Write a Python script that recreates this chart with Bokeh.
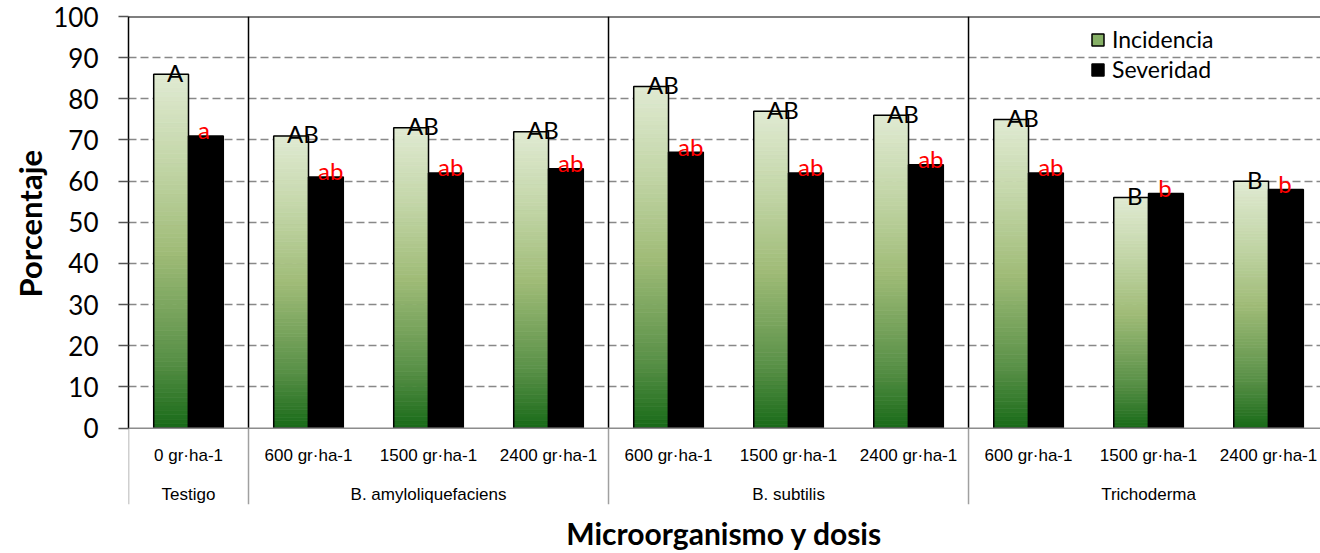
import numpy as np
from bokeh.plotting import figure
from bokeh.models import (Range1d, LinearAxis, FixedTicker, Span, Legend, LegendItem,
                          ColumnDataSource, Grid, Title)
from bokeh.core.properties import value
from bokeh.embed import file_html
from bokeh.resources import INLINE

# ---------------- data ----------------
microorganismo = ["Testigo",
                  "B. amyloliquefaciens", "B. amyloliquefaciens", "B. amyloliquefaciens",
                  "B. subtilis", "B. subtilis", "B. subtilis",
                  "Trichoderma", "Trichoderma", "Trichoderma"]
dosis = ["0 gr·ha-1",
         "600 gr·ha-1", "1500 gr·ha-1", "2400 gr·ha-1",
         "600 gr·ha-1", "1500 gr·ha-1", "2400 gr·ha-1",
         "600 gr·ha-1", "1500 gr·ha-1", "2400 gr·ha-1"]
incidencia = [86, 71, 73, 72, 83, 77, 76, 75, 56, 60]
severidad = [71, 61, 62, 63, 67, 62, 64, 62, 57, 58]
letras_incidencia = ["A", "AB", "AB", "AB", "AB", "AB", "AB", "AB", "B", "B"]
letras_severidad = ["a", "ab", "ab", "ab", "ab", "ab", "ab", "ab", "b", "b"]
y_ticks = list(range(0, 101, 10))

# ---------------- layout ----------------
n = len(dosis)
xc = np.arange(n) + 0.5
bw = 0.29
off = bw / 2
Y_LO = -18.55

p = figure(width=1320, height=553,
           x_range=Range1d(0, 9.933), y_range=Range1d(Y_LO, 100),
           x_axis_type=None, y_axis_type=None,
           output_backend="svg", toolbar_location=None,
           min_border_left=128, min_border_right=0, min_border_top=16, min_border_bottom=45)
p.outline_line_color = None
p.background_fill_color = "white"
p.border_fill_color = "white"

# y axis
yax = LinearAxis(ticker=FixedTicker(ticks=y_ticks), bounds=(0, 100))
yax.axis_line_color = "black"
yax.axis_line_width = 1.5
yax.major_tick_line_color = "#555555"
yax.major_tick_line_width = 1.5
yax.major_tick_out = 10
yax.major_tick_in = 0
yax.minor_tick_line_color = None
yax.major_label_standoff = 20
yax.major_label_text_font = "Lato"
yax.major_label_text_font_size = "26px"
yax.major_label_text_color = "black"
p.add_layout(yax, "left")

# y title, centred on the 0-100 part of the axis
ytitle = Title(text="Porcentaje", align="left", offset=207, vertical_align="top",
               text_font="Lato", text_font_style="bold", text_font_size="31px",
               text_color="black", standoff=0)
p.add_layout(ytitle, "left")

# x axis (title only)
xax = LinearAxis(ticker=FixedTicker(ticks=[]))
xax.axis_line_color = None
xax.major_tick_line_color = None
xax.minor_tick_line_color = None
xax.major_label_text_font_size = "0px"
xax.axis_label = "Microorganismo y dosis"
xax.axis_label_text_font = "Lato"
xax.axis_label_text_font_style = "bold"
xax.axis_label_text_font_size = "30px"
xax.axis_label_text_color = "black"
xax.axis_label_standoff = 10
p.add_layout(xax, "below")

# grid
g = Grid(dimension=1, ticker=FixedTicker(ticks=y_ticks[1:-1]))
g.grid_line_color = "#888888"
g.grid_line_dash = "8 4"
g.grid_line_width = 1.5
p.add_layout(g)

p.add_layout(Span(location=0, dimension="width", line_color="#8c8c8c", line_width=1.5))
p.add_layout(Span(location=100, dimension="width", line_color="black", line_width=2))

# group separators
bounds_idx = [0] + [i for i in range(1, n) if microorganismo[i] != microorganismo[i - 1]]
p.segment(x0=bounds_idx[1:], y0=[0] * (len(bounds_idx) - 1), x1=bounds_idx[1:],
          y1=[100] * (len(bounds_idx) - 1), line_color="black", line_width=1.5)
p.segment(x0=bounds_idx, y0=[Y_LO] * len(bounds_idx), x1=bounds_idx, y1=[0] * len(bounds_idx),
          line_color="#a0a0a0", line_width=1.5)

# gradient bars (Incidencia)
N = 80
stops_f = [0.0, 0.2, 0.5, 0.75, 1.0]
stops_rgb = np.array([(24, 106, 24), (90, 145, 72), (160, 188, 120), (195, 214, 168), (224, 234, 210)])
gx, gb, gt, gc = [], [], [], []
for i, v in enumerate(incidencia):
    for k in range(N):
        f = (k + 0.5) / N
        r, gg, b = [int(round(np.interp(f, stops_f, stops_rgb[:, c]))) for c in range(3)]
        gx.append(xc[i] - off)
        gb.append(v * k / N)
        gt.append(v * (k + 1) / N)
        gc.append("#%02x%02x%02x" % (r, gg, b))
p.vbar(x=gx, width=bw, bottom=gb, top=gt, fill_color=gc, line_color=gc, line_width=0.8)
inc_src = ColumnDataSource(dict(x=xc - off, top=incidencia))
p.vbar(x="x", width=bw, bottom=0, top="top", source=inc_src,
       fill_color=None, line_color="black", line_width=1.5)

# Severidad
sev_src = ColumnDataSource(dict(x=xc + off, top=severidad))
sev_r = p.vbar(x="x", width=bw, bottom=0, top="top", source=sev_src,
               fill_color="black", line_color="black", line_width=1.5)

# letters
p.text(x=list(xc - 0.18), y=[v + 0.5 for v in incidencia], text=letras_incidencia,
       text_align="left", text_baseline="middle", text_font=value("Lato"),
       text_font_size="24px", text_color="black")
p.text(x=list(xc + 0.08), y=[v + 1.5 for v in severidad], text=letras_severidad,
       text_align="left", text_baseline="middle", text_font=value("Lato"),
       text_font_size="24px", text_color="#ff0000")

# category labels (dose row and group row)
p.text(x=list(xc), y=[-6.7] * n, text=dosis, text_align="center", text_baseline="middle",
       text_font=value("Liberation Sans"), text_font_size="17px", text_color="black")
grp_names, grp_x = [], []
ends = bounds_idx[1:] + [n]
for s, e in zip(bounds_idx, ends):
    grp_names.append(microorganismo[s])
    grp_x.append((s + e) / 2)
p.text(x=grp_x, y=[-16.0] * len(grp_x), text=grp_names, text_align="center",
       text_baseline="middle", text_font=value("Liberation Sans"),
       text_font_size="17px", text_color="black")

# legend (swatch renderer is a zero-size bar)
dummy_inc = p.vbar(x=[xc[0]], width=0, top=[0], bottom=0, fill_color="#86b066",
                   line_color="black", line_width=1.5)
legend = Legend(items=[LegendItem(label="Incidencia", renderers=[dummy_inc]),
                       LegendItem(label="Severidad", renderers=[sev_r])],
                location=(962, 421))
legend.border_line_color = None
legend.background_fill_alpha = 0
legend.padding = 0
legend.margin = 0
legend.spacing = 2
legend.glyph_width = 15
legend.glyph_height = 15
legend.label_standoff = 7
legend.label_height = 28
legend.label_text_font = "Lato"
legend.label_text_font_size = "23px"
legend.label_text_color = "black"
p.add_layout(legend)

open("out.html", "w").write(file_html(p, INLINE))
